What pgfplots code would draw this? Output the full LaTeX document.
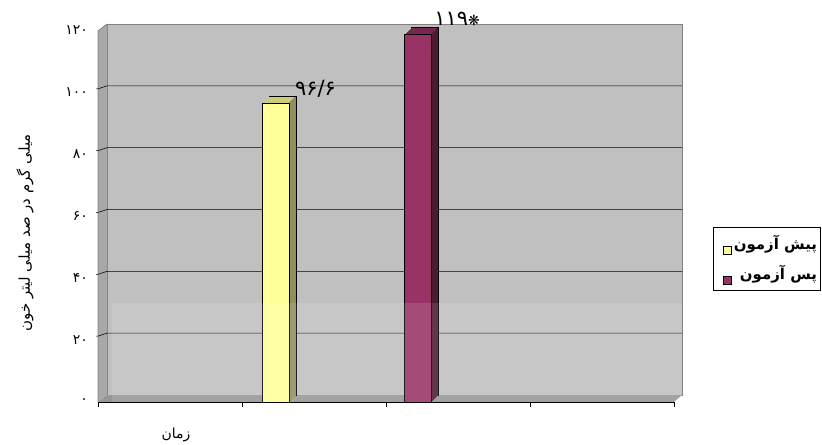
\documentclass[border=0pt]{standalone}
\usepackage{fontspec}
\usepackage{pgfplots}
\pgfplotsset{compat=1.18}
\TeXXeTstate=1
\setmainfont{Liberation Serif}
\newfontfamily\arabicfont[Script=Arabic]{DejaVu Sans}
\definecolor{wall}{HTML}{C0C0C0}
\definecolor{wallb}{HTML}{808080}
\definecolor{lwall}{HTML}{A8A8A8}
\definecolor{floorc}{HTML}{969696}
\definecolor{yfront}{HTML}{FFFF99}
\definecolor{ytop}{HTML}{CCCC7A}
\definecolor{yside}{HTML}{8F8F5C}
\definecolor{mfront}{HTML}{993366}
\definecolor{mtop}{HTML}{752750}
\definecolor{mside}{HTML}{4D1A33}

% 3D bar: #1 x, #2 value, #3 top colour, #4 side colour
\newcommand\barbody[4]{%
  \addplot[forget plot, fill=#3, draw=black, line width=0.5pt, bar shift=0pt, xshift=-1bp, yshift=0bp] coordinates {(#1,#2)};
  \pgfplotsinvokeforeach{1,...,13}{%
    \addplot[forget plot, fill=#3, draw=none, bar shift=0pt, xshift={-1bp-##1*0.5bp}, yshift={-##1*0.5bp}] coordinates {(#1,#2)};
  }%
  \pgfplotsinvokeforeach{0,...,13}{%
    \addplot[forget plot, fill=#4, draw=none, bar width=1bp, bar shift=13bp, xshift={-8bp+##1*0.5bp}, yshift={-7bp+##1*0.5bp}] coordinates {(#1,#2)};
  }%
}

\begin{document}
\begin{tikzpicture}
\useasboundingbox (0,0) rectangle (822bp,445bp);
\begin{axis}[
  at={(107bp,50bp)}, anchor=south west,
  width=575bp, height=371bp, scale only axis,
  xmin=0, xmax=4, ymin=0, ymax=120,
  axis background/.style={fill=wall},
  axis line style={draw=wallb, line width=0.8pt},
  xtick=\empty,
  ytick={0,20,...,120},
  yticklabels={۰,۲۰,۴۰,۶۰,۸۰,۱۰۰,۱۲۰},
  yticklabel style={font=\arabicfont\fontsize{14}{14}\selectfont, anchor=east, inner sep=0pt, xshift=-19bp, yshift=-6.5bp},
  major tick length=0pt,
  clip=false,
  ybar, bar width=27bp,
  xlabel={\beginR زمان\endR},
  ylabel={\beginR میلی گرم در صد میلی لیتر خون\endR},
  every axis x label/.style={at={(axis description cs:0.12,-0.108)}, anchor=center, font=\arabicfont\fontsize{14}{14}\selectfont},
  every axis y label/.style={at={(axis description cs:-0.1426,0.4367)}, rotate=90, anchor=center, font=\arabicfont\fontsize{15}{15}\selectfont},
  legend style={at={(axis description cs:1.054,0.4528)}, anchor=north west, draw=black, line width=0.6pt, fill=white,
    font=\arabicfont\bfseries\fontsize{15}{15}\selectfont, inner xsep=1bp, inner ysep=6bp, row sep=9bp},
  legend cell align=right,
]
% left wall
\fill[lwall] (axis cs:0,0) -- (axis cs:0,120) -- ([shift={(-9bp,-7bp)}]axis cs:0,120) -- ([shift={(-9bp,-7bp)}]axis cs:0,0) -- cycle;
\draw[wallb, line width=0.8pt] (axis cs:0,120) -- ([shift={(-9bp,-7bp)}]axis cs:0,120) -- ([shift={(-9bp,-7bp)}]axis cs:0,0);
% floor
\fill[floorc] (axis cs:0,0) -- (axis cs:4,0) -- ([shift={(-8bp,-7bp)}]axis cs:4,0) -- ([shift={(-9bp,-7bp)}]axis cs:0,0) -- cycle;
% grid lines on back and left walls
\pgfplotsinvokeforeach{20,40,60,80,100}{%
  \draw[black, line width=0.5pt] (axis cs:4,#1) -- (axis cs:0,#1) -- ([shift={(-9bp,-3bp)}]axis cs:0,#1) -- ++(-2bp,0);
}
% front category axis
\draw[black, line width=0.6pt] ([shift={(-9bp,-7bp)}]axis cs:0,0) -- ([shift={(-8bp,-7bp)}]axis cs:4,0);
\pgfplotsinvokeforeach{0,1,2,3,4}{%
  \draw[black, line width=0.6pt] ([shift={(-8.8bp+#1*0.2bp,-7bp)}]axis cs:#1,0) -- ++(0,-5bp);
}

\barbody{1.228}{96.6}{ytop}{yside}
\addplot[fill=yfront, draw=black, line width=0.5pt, bar shift=0pt, xshift=-8bp, yshift=-7bp,
  legend image code/.code={\path (-9bp,0bp); \draw[fill=yfront, draw=black, line width=0.5pt] (0bp,-4bp) rectangle (8bp,4bp);},
  nodes near coords={\arabicfont\fontsize{21}{21}\selectfont ۹۶/۶},
  every node near coord/.append style={anchor=center, xshift=40bp, yshift=14bp}]
  coordinates {(1.228,96.6)};
\addlegendentry{\beginR پیش آزمون\endR}

\barbody{2.22}{119}{mtop}{mside}
\addplot[fill=mfront, draw=black, line width=0.5pt, bar shift=0pt, xshift=-8bp, yshift=-7bp,
  legend image code/.code={\path (-9bp,0bp); \draw[fill=mfront, draw=black, line width=0.5pt] (0bp,-4bp) rectangle (8bp,4bp);},
  nodes near coords={\arabicfont\fontsize{21}{21}\selectfont ۱۱۹{\fontsize{14}{14}\selectfont ❋}},
  every node near coord/.append style={anchor=center, xshift=39bp, yshift=15bp}]
  coordinates {(2.22,119)};
\addlegendentry{\beginR پس آزمون\endR}

% light watermark band
\fill[white, opacity=0.12] (axis cs:0.035,29.8) rectangle ([yshift=-7bp]axis cs:4,0);
\end{axis}
\end{tikzpicture}
\end{document}
